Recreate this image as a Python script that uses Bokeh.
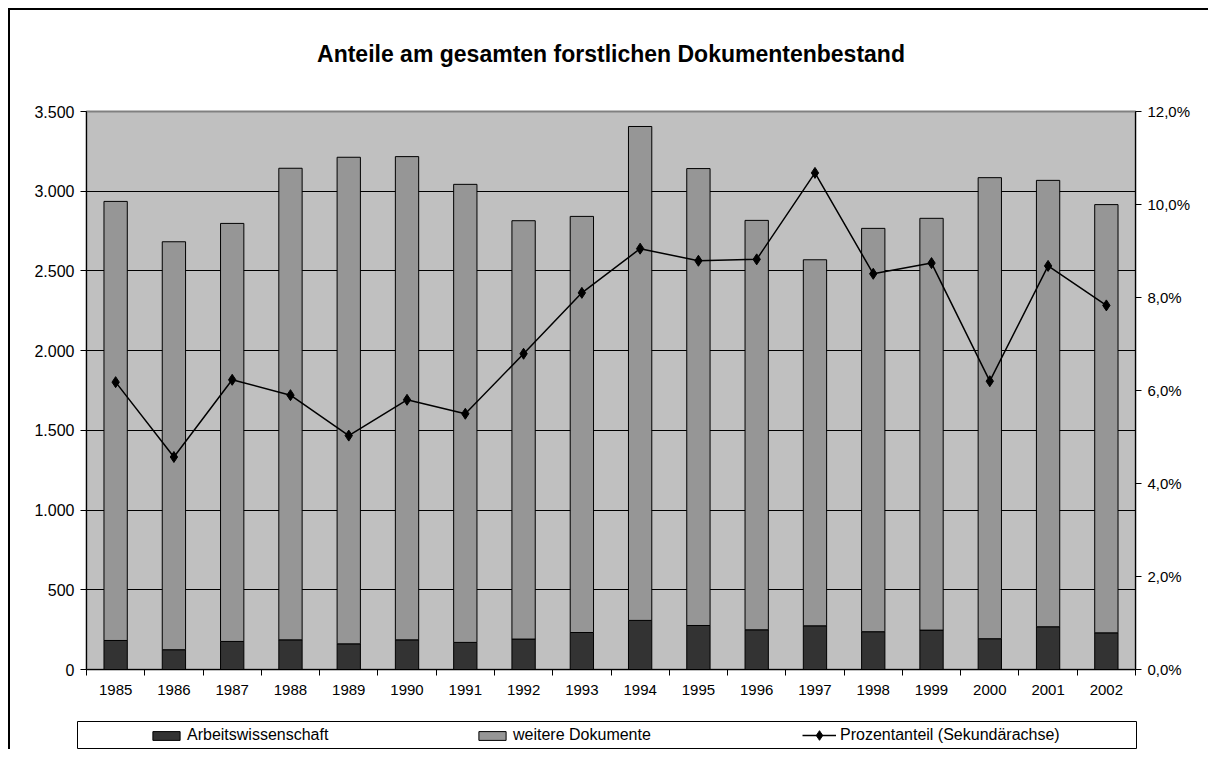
from bokeh.plotting import figure
from bokeh.layouts import column
from bokeh.models import (ColumnDataSource, Range1d, LinearAxis, FixedTicker,
                          CustomJSTickFormatter, Legend, LegendItem, Title)
from bokeh.embed import file_html
from bokeh.resources import INLINE

years = ["1985", "1986", "1987", "1988", "1989", "1990", "1991", "1992", "1993",
         "1994", "1995", "1996", "1997", "1998", "1999", "2000", "2001", "2002"]
arbeit = [182, 124, 176, 186, 161, 186, 170, 191, 232,
          308, 276, 249, 274, 237, 247, 193, 268, 230]
weitere = [2754, 2559, 2622, 2958, 3052, 3031, 2873, 2624, 2610,
           3098, 2866, 2568, 2296, 2530, 2583, 2892, 2800, 2686]
prozent = [6.18, 4.57, 6.23, 5.90, 5.03, 5.80, 5.50, 6.79, 8.10,
           9.05, 8.79, 8.82, 10.68, 8.51, 8.74, 6.20, 8.68, 7.83]
left_ticks = [0, 500, 1000, 1500, 2000, 2500, 3000, 3500]
right_ticks = [0, 2, 4, 6, 8, 10, 12]
title_text = "Anteile am gesamten forstlichen Dokumentenbestand"
labels = ["Arbeitswissenschaft", "weitere Dokumente", "Prozentanteil (Sekundärachse)"]

FONT = "Liberation Sans"
DARK = "#333333"
LIGHT = "#969696"
W = 1198

src = ColumnDataSource(dict(x=[i + 0.5 for i in range(len(years))],
                            arbeit=arbeit, weitere=weitere, pct=prozent))

p = figure(width=W, height=711, output_backend="svg", toolbar_location=None,
           x_range=Range1d(0, len(years)), y_range=Range1d(0, 3500),
           min_border_left=76, min_border_right=W - 1125, min_border_top=101,
           min_border_bottom=52)
p.extra_y_ranges = {"pct": Range1d(0, 12)}

p.background_fill_color = "#C0C0C0"
p.border_fill_color = "white"
p.outline_line_color = "#808080"
p.outline_line_width = 2

# blank spacer between plot area and title (keeps the title high up)
p.add_layout(Title(text=" ", text_font_size="10px", standoff=32), "above")

# title
p.title.text = title_text
p.title.align = "center"
p.title.text_font = FONT
p.title.text_font_size = "23px"
p.title.text_font_style = "bold"
p.title.text_color = "black"
p.title.standoff = 0

# grid
p.xgrid.visible = False
p.ygrid.ticker = FixedTicker(ticks=left_ticks[1:-1])
p.ygrid.grid_line_color = "black"
p.ygrid.grid_line_width = 1

# x axis: labels at category centres, tick marks between categories
xa = p.xaxis[0]
xa.ticker = FixedTicker(ticks=[i + 0.5 for i in range(len(years))],
                        minor_ticks=list(range(len(years) + 1)))
xa.formatter = CustomJSTickFormatter(args=dict(years=years),
                                     code="return years[Math.floor(tick)];")
xa.major_tick_out = 0
xa.major_tick_in = 0
xa.minor_tick_out = 6
xa.minor_tick_in = 0
xa.minor_tick_line_color = "black"
xa.axis_line_color = "black"
xa.major_label_standoff = 9
xa.major_label_text_font = FONT
xa.major_label_text_font_size = "15px"
xa.major_label_text_color = "black"

# left y axis
ya = p.yaxis[0]
ya.ticker = FixedTicker(ticks=left_ticks)
ya.formatter = CustomJSTickFormatter(code="""
const s = Math.round(tick).toString();
return s.length > 3 ? s.slice(0, -3) + '.' + s.slice(-3) : s;
""")
ya.major_tick_out = 6
ya.major_tick_in = 0
ya.minor_tick_out = 0
ya.minor_tick_in = 0
ya.axis_line_color = "black"
ya.major_tick_line_color = "black"
ya.major_label_standoff = 6
ya.major_label_text_font = FONT
ya.major_label_text_font_size = "16px"
ya.major_label_text_color = "black"

# right y axis
ra = LinearAxis(y_range_name="pct", ticker=FixedTicker(ticks=right_ticks),
                formatter=CustomJSTickFormatter(
                    code="return tick.toFixed(1).replace('.', ',') + '%';"))
ra.major_tick_out = 6
ra.major_tick_in = 0
ra.minor_tick_out = 0
ra.minor_tick_in = 0
ra.axis_line_color = "black"
ra.major_tick_line_color = "black"
ra.major_label_standoff = 6
ra.major_label_text_font = FONT
ra.major_label_text_font_size = "15px"
ra.major_label_text_color = "black"
p.add_layout(ra, "right")

# bars (stacked)
p.vbar_stack(["arbeit", "weitere"], x="x", width=0.4, source=src,
             fill_color=[DARK, LIGHT], line_color="black", line_width=1)

# percentage line on the secondary axis
p.line(x="x", y="pct", source=src, y_range_name="pct",
       line_color="black", line_width=1.5)
p.scatter(x="x", y="pct", source=src, y_range_name="pct", marker="diamond",
          size=11, fill_color="black", line_color="black")

# legend in its own boxed strip below the chart (frame = legend box)
lg = figure(width=W, height=28, output_backend="svg", toolbar_location=None,
            title=None, x_axis_type=None, y_axis_type=None,
            x_range=Range1d(0, 1), y_range=Range1d(0, 1),
            min_border_left=67, min_border_right=W - 67 - 1059,
            min_border_top=0, min_border_bottom=0)
lg.frame_align = False
lg.outline_line_color = "black"
lg.outline_line_width = 1
lg.background_fill_color = "white"
lg.border_fill_color = "white"
lg.xgrid.visible = False
lg.ygrid.visible = False
# off-screen proxy glyphs that only serve as legend swatches
proxy = ColumnDataSource(dict(x=[-5], y=[-5], t=[-5]))
r1 = lg.vbar(x="x", top="t", width=0.1, source=proxy, fill_color=DARK,
             line_color="black", line_width=1)
r2 = lg.vbar(x="x", top="t", width=0.1, source=proxy, fill_color=LIGHT,
             line_color="black", line_width=1)
r3 = lg.line(x="x", y="y", source=proxy, line_color="black", line_width=1.5)
r4 = lg.scatter(x="x", y="y", source=proxy, marker="diamond", size=11,
                fill_color="black", line_color="black")
common = dict(orientation="horizontal", glyph_width=34, label_standoff=4,
              label_height=20, padding=0, margin=0, border_line_alpha=0,
              background_fill_alpha=0, label_text_font=FONT,
              label_text_font_size="16px", label_text_color="black",
              label_text_baseline="middle")
leg_bars = Legend(items=[LegendItem(label=labels[0], renderers=[r1]),
                         LegendItem(label=labels[1], renderers=[r2])],
                  location=(72, 4), glyph_height=11, label_width=250,
                  spacing=38, **common)
leg_line = Legend(items=[LegendItem(label=labels[2], renderers=[r3, r4])],
                  location=(725, 2), glyph_height=24, **common)
lg.add_layout(leg_bars)
lg.add_layout(leg_line)

layout = column(p, lg, margin=(8, 0, 0, 8), spacing=0,
                styles={"border-left": "2px solid black",
                        "border-top": "2px solid black"})

open("out.html", "w").write(file_html(layout, INLINE))
